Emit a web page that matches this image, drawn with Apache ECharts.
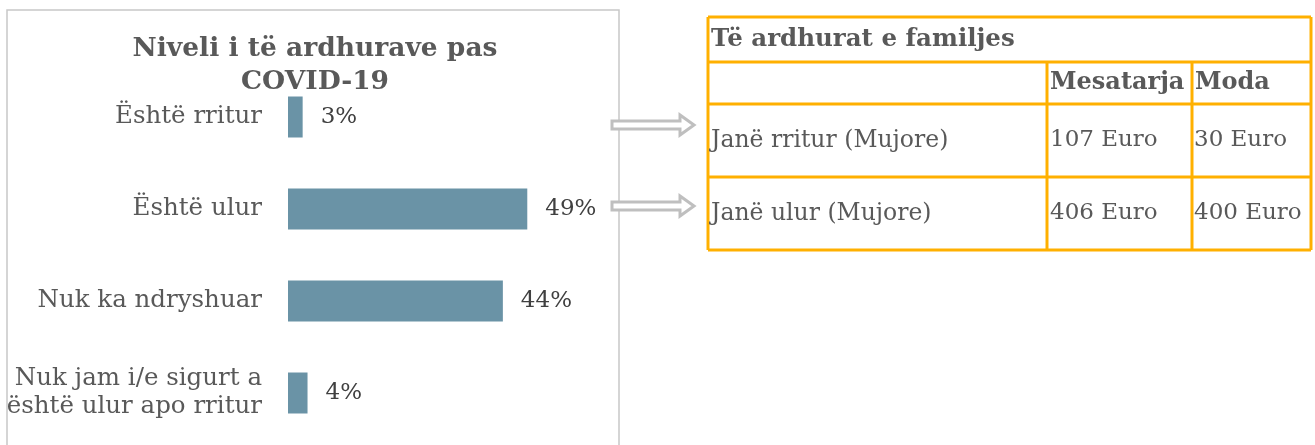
<!DOCTYPE html>
<html>
<head>
<meta charset="UTF-8"/>
<title>Niveli i të ardhurave pas COVID-19</title>
<script src="https://cdn.jsdelivr.net/npm/echarts@6/dist/echarts.min.js"></script>
<style>
html,body{margin:0;padding:0;background:#fff;}
#main{width:1315px;height:445px;}
</style>
</head>
<body>
<div id="main"></div>
<script type="text/javascript">
var categories = ['Është rritur', 'Është ulur', 'Nuk ka ndryshuar', 'Nuk jam i/e sigurt a\nështë ulur apo rritur'];
var values = [3, 49, 44, 4];

var tableTitle = 'Të ardhurat e familjes';
var tableHeaders = ['', 'Mesatarja', 'Moda'];
var tableRowNames = ['Janë rritur (Mujore)', 'Janë ulur (Mujore)'];
var tableMesatarja = ['107 Euro', '406 Euro'];
var tableModa = ['30 Euro', '400 Euro'];

var font = 'Georgia, "DejaVu Serif", serif';
var textColor = '#595959';
var orange = '#FFB000';

// table geometry
var tX = [708, 1047, 1192, 1311];
var tY = [17, 62, 104, 177, 250];

function buildTable(){
	var els = [];
	var i;
	// horizontal lines
	for(i=0;i<tY.length;i++){
		els.push({type:'line', shape:{x1:tX[0], y1:tY[i], x2:tX[3], y2:tY[i]}, style:{stroke:orange, lineWidth:3}});
	}
	// vertical lines
	els.push({type:'line', shape:{x1:tX[0], y1:tY[0], x2:tX[0], y2:tY[4]}, style:{stroke:orange, lineWidth:3}});
	els.push({type:'line', shape:{x1:tX[3], y1:tY[0], x2:tX[3], y2:tY[4]}, style:{stroke:orange, lineWidth:3}});
	els.push({type:'line', shape:{x1:tX[1], y1:tY[1], x2:tX[1], y2:tY[4]}, style:{stroke:orange, lineWidth:3}});
	els.push({type:'line', shape:{x1:tX[2], y1:tY[1], x2:tX[2], y2:tY[4]}, style:{stroke:orange, lineWidth:3}});

	els.push({type:'text', x:tX[0]+3, y:(tY[0]+tY[1])/2, style:{text:tableTitle, font:'bold 24.5px '+font, fill:textColor, verticalAlign:'middle'}});
	for(i=0;i<tableHeaders.length;i++){
		els.push({type:'text', x:tX[i]+3, y:(tY[1]+tY[2])/2, style:{text:tableHeaders[i], font:'bold 24px '+font, fill:textColor, verticalAlign:'middle'}});
	}
	for(i=0;i<tableRowNames.length;i++){
		var cy = (tY[i+2]+tY[i+3])/2;
		els.push({type:'text', x:tX[0]+3, y:cy, style:{text:tableRowNames[i], font:'23.5px '+font, fill:textColor, verticalAlign:'middle'}});
		els.push({type:'text', x:tX[1]+3, y:cy, style:{text:tableMesatarja[i], font:'23px '+font, fill:textColor, verticalAlign:'middle'}});
		els.push({type:'text', x:tX[2]+2, y:cy, style:{text:tableModa[i], font:'23px '+font, fill:textColor, verticalAlign:'middle'}});
	}
	return els;
}

function arrow(cy){
	return {
		type:'polygon',
		shape:{points:[[612,cy-4],[680,cy-4],[680,cy-10],[694,cy],[680,cy+10],[680,cy+4],[612,cy+4]]},
		style:{fill:'#fff', stroke:'#BFBFBF', lineWidth:3}
	};
}

var myChart = echarts.init(document.getElementById('main'));
var graphics = [
	{type:'rect', shape:{x:7, y:10, width:612, height:460}, style:{fill:'none', stroke:'#C8C8C8', lineWidth:1.5}, z:0},
	arrow(125),
	arrow(206)
].concat(buildTable());

var option = {
	animation:false,
	backgroundColor:'#fff',
	title:{
		text:'Niveli i të ardhurave pas\nCOVID-19',
		left:310,
		top:28,
		textAlign:'center',
		textStyle:{fontFamily:font, fontWeight:'bold', fontSize:26.5, color:textColor, lineHeight:33}
	},
	grid:{left:288, top:71, width:293, height:368},
	xAxis:{type:'value', min:0, max:60, show:false},
	yAxis:{
		type:'category',
		inverse:true,
		data:categories,
		axisLine:{show:false},
		axisTick:{show:false},
		axisLabel:{margin:26, fontFamily:font, fontSize:24.5, color:textColor, lineHeight:28, align:'right'}
	},
	series:[{
		type:'bar',
		data:values,
		barWidth:41,
		itemStyle:{color:'#6A93A6'},
		label:{show:true, position:'right', distance:18, formatter:'{c}%', fontFamily:font, fontSize:23, color:'#404040'}
	}],
	graphic:graphics
};
myChart.setOption(option);
</script>
</body>
</html>
